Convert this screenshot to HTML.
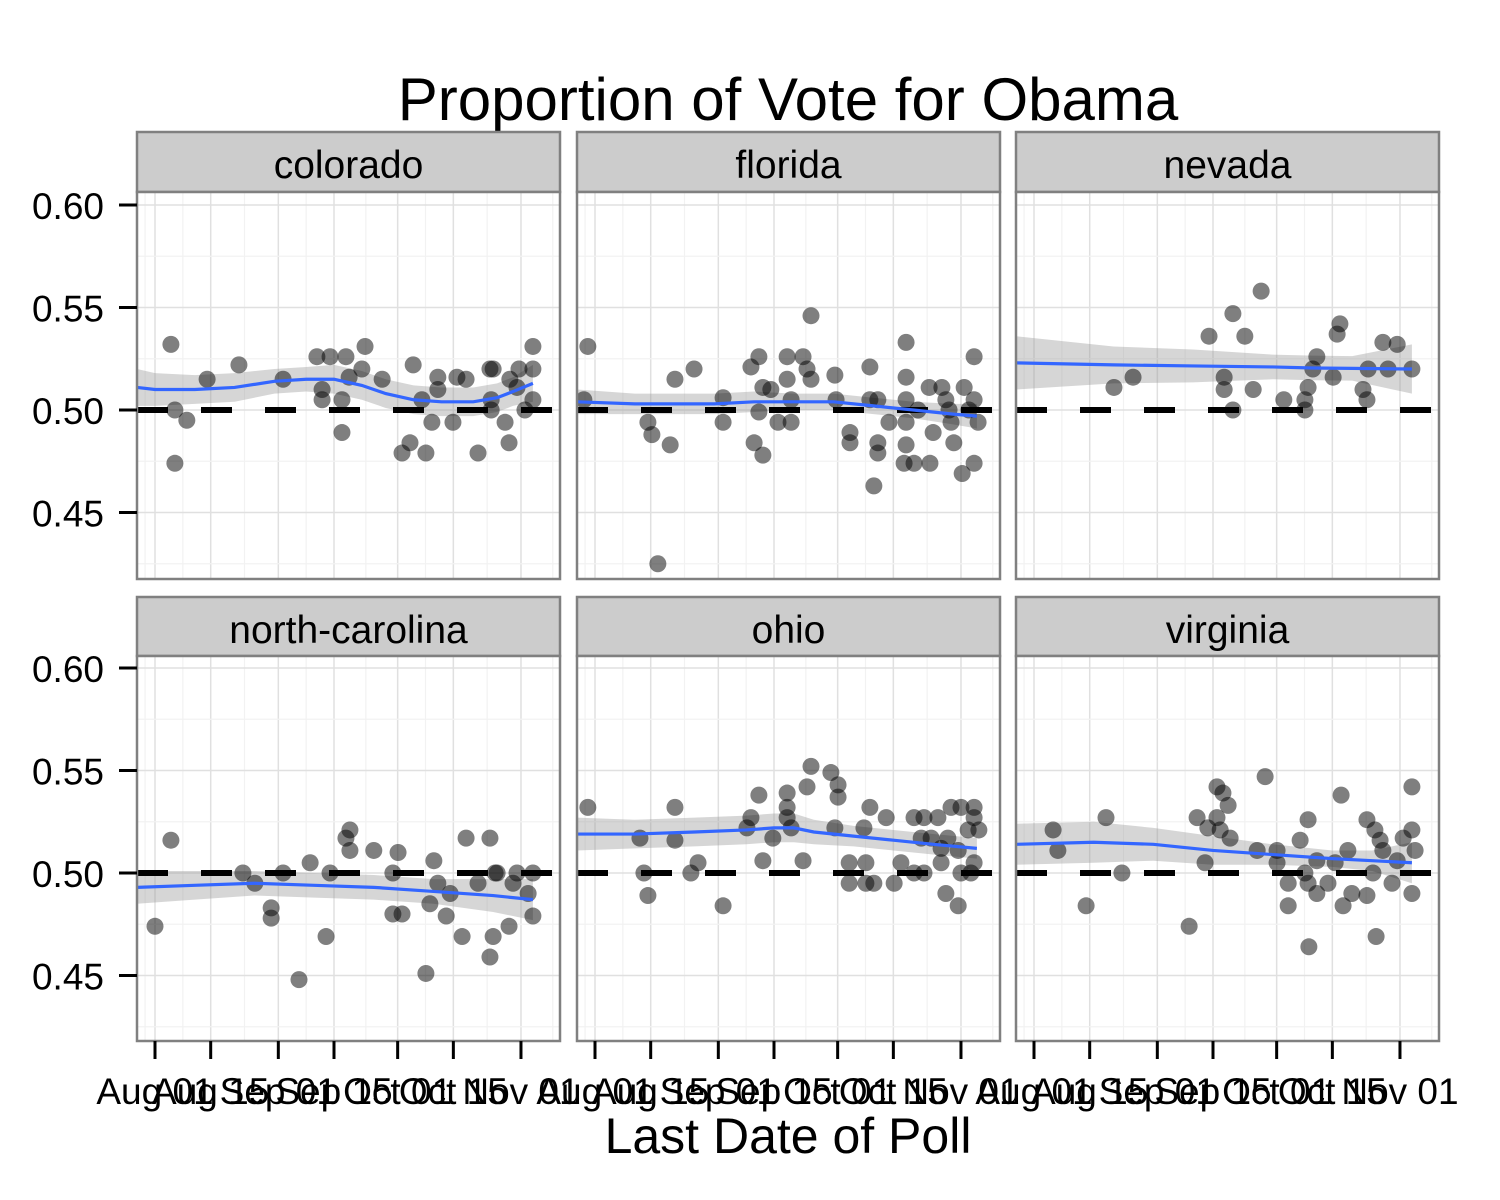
<!DOCTYPE html>
<html><head><meta charset="utf-8"><style>
html,body{margin:0;padding:0;background:#fff;}
svg{display:block;font-family:"Liberation Sans",Arial,sans-serif;}
</style></head><body>
<svg id="chart" width="1500" height="1200" viewBox="0 0 1500 1200">
<text x="788" y="120" text-anchor="middle" font-size="60">Proportion of Vote for Obama</text>
<text x="788" y="1153" text-anchor="middle" font-size="50">Last Date of Poll</text>
</svg>
<script>
// days since Aug 01
const panelNames = ["colorado","florida","nevada","north-carolina","ohio","virginia"];
const tickDays = [0,14,31,45,61,75,92];
const tickLabels = ["Aug 01","Aug 15","Sep 01","Sep 15","Oct 01","Oct 15","Nov 01"];
const yTicks = [0.45,0.50,0.55,0.60];
const yTickLabels = ["0.45","0.50","0.55","0.60"];
const refValue = 0.5;

const coDays = [4,5,8,5,13.1,21.1,32.2,40.7,44,48,52.8,52,48.8,42,42,47,47,57.1,64.9,62.1,64.1,68.1,67.1,69.6,71.1,71.1,74.9,75.9,78.2,81.2,84.2,85,84.5,84.5,88,89,89.2,91.5,91,95,95,95,93];
const coVals = [.532,.500,.495,.474,.515,.522,.515,.526,.526,.526,.531,.520,.516,.510,.505,.505,.489,.515,.522,.479,.484,.479,.505,.494,.516,.510,.494,.516,.515,.479,.520,.520,.505,.500,.494,.484,.515,.520,.511,.531,.520,.505,.500];
const flDays = [-1.8,-2.8,20.1,24.9,13.3,14.3,18.9,15.8,32.2,32.2,39.2,41.2,42.2,44.2,41.2,40,42.2,46,49.3,48.3,48.3,49.3,52.3,53.3,54.3,54.3,60.3,60.6,64.1,64.1,69.1,69.1,71.1,71.1,71.1,70.1,73.9,78.2,78.2,78.2,78.2,78.2,77.7,80.2,81.2,84.2,84,85,87.2,88.2,89.5,90.2,92.8,95.3,95.3,96.3,95.3,92.3,89,94];
const flVals = [.531,.505,.515,.520,.494,.488,.483,.425,.506,.494,.521,.526,.511,.510,.499,.484,.478,.494,.494,.526,.515,.505,.526,.520,.515,.546,.517,.505,.489,.484,.521,.505,.505,.484,.479,.463,.494,.533,.516,.505,.494,.483,.474,.474,.500,.474,.511,.489,.511,.505,.494,.484,.511,.505,.526,.494,.474,.469,.500,.500];
const nvDays = [20.1,24.9,44,50,53,57.1,47.8,47.8,50,55.1,62.8,68.1,68.1,68.9,70.1,71.1,75.2,76.9,76.2,82.7,83.7,84,87.7,91.3,89,95];
const nvVals = [.511,.516,.536,.547,.536,.558,.516,.510,.500,.510,.505,.500,.505,.511,.520,.526,.516,.542,.537,.510,.505,.520,.533,.532,.520,.520];
const ncDays = [4,0,22.1,25.1,29.2,29.2,32.2,36.2,39,43,44,48,49,49,55,61.1,59.8,59.8,62.1,68.1,69.1,70.1,71.1,74.2,73.2,77.2,78.2,81.2,84.2,84.2,85,85.5,86,89,90,91,93.8,95,95];
const ncVals = [.516,.474,.500,.495,.483,.478,.500,.448,.505,.469,.500,.517,.521,.511,.511,.510,.500,.480,.480,.451,.485,.506,.495,.490,.479,.469,.517,.495,.517,.459,.469,.500,.500,.474,.495,.500,.490,.479,.500];
const ohDays = [-1.8,11.3,12.3,13.3,20.1,20.1,24.1,25.9,32.2,39.2,38.2,41.2,42.2,44.7,48.3,48.3,48.3,49.3,52.3,53.3,54.3,59.3,61.1,61.1,60.3,63.9,63.9,67.6,68.1,68.1,69.1,70.1,73.2,75.2,76.9,80.2,82.7,86.2,80.2,82.7,87,88.7,89.5,92,95.3,95.3,96.5,93.8,91.3,88.2,91.3,92,95.3,94.5,84.5,82,87];
const ohVals = [.532,.517,.500,.489,.532,.516,.500,.505,.484,.527,.522,.538,.506,.517,.539,.532,.527,.522,.506,.542,.552,.549,.543,.537,.522,.505,.495,.522,.505,.495,.532,.495,.527,.495,.505,.527,.527,.527,.500,.500,.505,.517,.532,.532,.532,.527,.521,.521,.511,.490,.484,.500,.505,.500,.517,.517,.512];
const vaDays = [4.8,6,13.1,18.1,22.1,39,41,43,43.7,46,47.5,48.8,46,46.8,49.3,58.1,56.1,61.1,61.1,63.9,63.9,66.9,68.9,68.1,68.9,71.1,69.1,73.9,71.1,75.7,77.7,79.9,77.2,78.9,83.7,83.7,85.7,87,85.2,87.7,90,86,92.8,95,95,95.8,95,91.3];
const vaVals = [.521,.511,.484,.527,.500,.474,.527,.505,.522,.542,.539,.533,.527,.521,.517,.547,.511,.511,.505,.495,.484,.516,.526,.500,.495,.490,.464,.495,.506,.505,.484,.490,.538,.511,.489,.526,.521,.516,.500,.511,.495,.469,.517,.542,.521,.511,.490,.506];

const coFitDays = [-4.5,0,10,20,30,38,45,52,58,65,72,80,86,90,95];
const coFit = [.511,.510,.510,.511,.514,.515,.515,.512,.508,.505,.504,.504,.506,.509,.513];
const coSe = [.009,.008,.007,.007,.006,.006,.007,.007,.007,.007,.007,.007,.007,.007,.009];
const flFitDays = [-4.5,10,20,30,40,50,60,70,80,90,96];
const flFit = [.504,.503,.503,.503,.504,.504,.504,.502,.500,.498,.497];
const flSe = [.006,.005,.005,.005,.005,.004,.004,.004,.004,.005,.006];
const nvFitDays = [-4.5,20,40,60,70,80,95];
const nvFit = [.523,.522,.5215,.521,.5205,.5203,.520];
const nvSe = [.013,.009,.008,.006,.006,.006,.012];
const ncFitDays = [-4.5,10,25,40,55,70,85,95];
const ncFit = [.493,.494,.495,.494,.493,.491,.489,.487];
const ncSe = [.008,.007,.006,.006,.006,.006,.008,.010];
const ohFitDays = [-4.5,10,25,38,45,50,55,65,75,85,96];
const ohFit = [.519,.519,.520,.521,.522,.522,.520,.518,.516,.514,.512];
const ohSe = [.008,.007,.007,.007,.007,.007,.006,.005,.005,.005,.005];
const vaFitDays = [-4.5,15,30,45,60,75,85,95];
const vaFit = [.514,.515,.514,.511,.509,.507,.506,.505];
const vaSe = [.010,.010,.008,.007,.005,.004,.005,.010];

const pointDays = [coDays,flDays,nvDays,ncDays,ohDays,vaDays];
const pointVals = [coVals,flVals,nvVals,ncVals,ohVals,vaVals];
const fitDays = [coFitDays,flFitDays,nvFitDays,ncFitDays,ohFitDays,vaFitDays];
const fitVals = [coFit,flFit,nvFit,ncFit,ohFit,vaFit];
const fitSe = [coSe,flSe,nvSe,ncSe,ohSe,vaSe];

const NS = "http://www.w3.org/2000/svg";
const svg = document.getElementById("chart");
const colX = [137,577,1016], pw = 423;
const rowStrip = [132,597], rowTop = [192,656], rowBot = [579,1041], rowRef = [410,873];
const dayPx = 3.978, valPx = 2050, dayOff = 18;
function mk(tag, attrs, parent){const e=document.createElementNS(NS,tag);for(const k in attrs)e.setAttribute(k,attrs[k]);(parent||svg).appendChild(e);return e;}

for(let p=0;p<6;p++){
  const c=p%3, r=Math.floor(p/3);
  const x0=colX[c], y0=rowTop[r], y1=rowBot[r];
  const xs=d=>x0+dayOff+d*dayPx;
  const ys=v=>rowRef[r]-(v-0.5)*valPx;
  const g=mk("g",{});
  
  
  const st=mk("rect",{x:x0,y:rowStrip[r],width:pw,height:y0-rowStrip[r],fill:"#cccccc",stroke:"#808080","stroke-width":2.5},g);
  
  
  const stt=mk("text",{x:x0+pw/2,y:rowStrip[r]+46,"text-anchor":"middle","font-size":39},g);
  stt.textContent=panelNames[p];
  
  
  mk("rect",{x:x0,y:y0,width:pw,height:y1-y0,fill:"#fff"},g);
  const clipId="clip"+p;
  const cp=mk("clipPath",{id:clipId},g); mk("rect",{x:x0,y:y0,width:pw,height:y1-y0},cp);
  const inner=mk("g",{"clip-path":"url(#"+clipId+")"},g);
  for(let i=0;i<tickDays.length;i++){
    const gl=mk("line",{x1:xs(tickDays[i]),x2:xs(tickDays[i]),y1:y0,y2:y1,stroke:"#e0e0e0","stroke-width":1.5},inner);
    
    
    if(i<tickDays.length-1){const m=(tickDays[i]+tickDays[i+1])/2;
      mk("line",{x1:xs(m),x2:xs(m),y1:y0,y2:y1,stroke:"#f2f2f2","stroke-width":1.2},inner);}
  }
  mk("line",{x1:xs(-2.5),x2:xs(-2.5),y1:y0,y2:y1,stroke:"#f2f2f2","stroke-width":1.2},inner);
  mk("line",{x1:xs(100),x2:xs(100),y1:y0,y2:y1,stroke:"#f2f2f2","stroke-width":1.2},inner);
  for(let v=0.425;v<0.62;v+=0.025){
    const major=Math.round(v*1000)%50===0;
    mk("line",{x1:x0,x2:x0+pw,y1:ys(v),y2:ys(v),stroke:major?"#e0e0e0":"#f2f2f2","stroke-width":major?1.5:1.2},inner);
  }
  const fd=fitDays[p], fv=fitVals[p], fs=fitSe[p];
  let up="",lo="";
  for(let i=0;i<fd.length;i++) up+=(i?"L":"M")+xs(fd[i])+","+ys(fv[i]+fs[i]);
  for(let i=fd.length-1;i>=0;i--) lo+="L"+xs(fd[i])+","+ys(fv[i]-fs[i]);
  const rb=mk("path",{d:up+lo+"Z",fill:"#999999","fill-opacity":0.4},inner);
  
  
  const rl=mk("line",{x1:x0,x2:x0+pw,y1:ys(refValue),y2:ys(refValue),stroke:"#000","stroke-width":6,"stroke-dasharray":"31 33"},inner);
  
  
  const pd=pointDays[p], pv=pointVals[p];
  for(let i=0;i<pd.length;i++){
    const pt=mk("circle",{cx:xs(pd[i]),cy:ys(pv[i]),r:8.5,fill:"#000","fill-opacity":0.5},inner);
    
    
  }
  let fl="";
  for(let i=0;i<fd.length;i++) fl+=(i?"L":"M")+xs(fd[i])+","+ys(fv[i]);
  const ln=mk("path",{d:fl,fill:"none",stroke:"#3366FF","stroke-width":3.2},inner);
  
  
  mk("rect",{x:x0,y:y0,width:pw,height:y1-y0,fill:"none",stroke:"#808080","stroke-width":2.5},g);
  if(c===0){
    for(let i=0;i<yTicks.length;i++){
      mk("line",{x1:x0-18,x2:x0,y1:ys(yTicks[i]),y2:ys(yTicks[i]),stroke:"#000","stroke-width":3},g);
      const t=mk("text",{x:x0-33,y:ys(yTicks[i])+14,"text-anchor":"end","font-size":37},g);
      t.textContent=yTickLabels[i];
      
      
    }
  }
  if(r===1){
    for(let i=0;i<tickDays.length;i++){
      mk("line",{x1:xs(tickDays[i]),x2:xs(tickDays[i]),y1:y1,y2:y1+18,stroke:"#000","stroke-width":3},g);
      const t=mk("text",{x:xs(tickDays[i]),y:y1+63,"text-anchor":"middle","font-size":37},g);
      t.textContent=tickLabels[i];
      
      
    }
  }
}
</script>
</body></html>
